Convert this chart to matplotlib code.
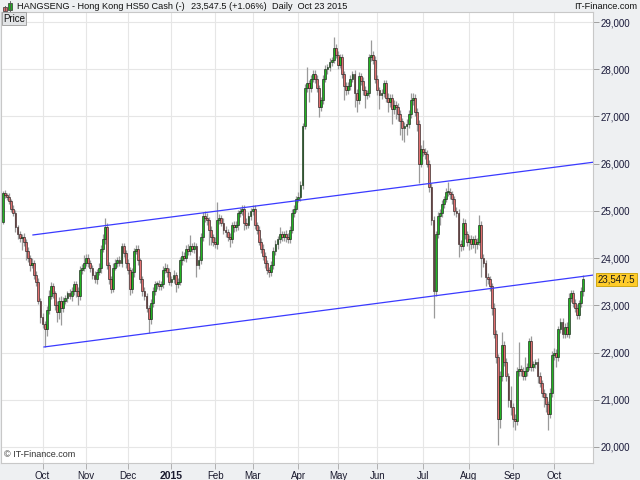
import numpy as np
import pandas as pd
import matplotlib
matplotlib.use('Agg')
import matplotlib.pyplot as plt
from matplotlib.patches import Rectangle
from matplotlib.lines import Line2D
import matplotlib.transforms as mtransforms

plt.rcParams['font.family'] = ['Liberation Sans', 'DejaVu Sans']

# ---------------- data ----------------
hk_holidays = ['2014-09-09', '2014-10-01', '2014-10-02', '2014-12-25', '2014-12-26',
               '2015-01-01', '2015-02-19', '2015-02-20', '2015-04-03', '2015-04-06',
               '2015-04-07', '2015-05-01', '2015-05-25', '2015-07-01', '2015-09-03',
               '2015-09-28', '2015-10-01', '2015-10-21']
last_date = '2015-10-23'

first_open = 24760
closes = [
    25380, 25330, 25300, 25200, 25050, 24950, 24650, 24500, 24430, 24450,
    24350, 24150, 24000, 23850, 23900, 23650, 23500, 23100, 22750, 22600,
    22500, 22900, 23200, 23400, 23250, 23000, 22850, 23100, 22950, 23100,
    23150, 23250, 23200, 23300, 23450, 23300, 23200, 23750, 23800, 23900,
    24000, 23900, 23800, 23650, 23550, 23700, 23800, 24200, 24400, 24650,
    23850, 23550, 23350, 23800, 23900, 23950, 23900, 24250, 24100, 23900,
    23750, 23350, 23700, 24150, 24200, 23950, 23550, 23300, 23200, 22950,
    22700, 23050, 23300, 23450, 23450, 23400, 23450, 23750, 23800, 23700,
    23500, 23550, 23650, 23450, 23500, 23950, 24050, 24000, 24200, 24150,
    24250, 24200, 24250, 23850, 23950, 24450, 24900, 24850, 24800, 24600,
    24450, 24350, 24300, 24800, 24850, 24750, 24600, 24550, 24450, 24400,
    24700, 24650, 24700, 24950, 25000, 25050, 24750, 24700, 24900, 25000,
    25050, 24700, 24600, 24350, 24200, 24050, 23900, 23750, 23700, 23850,
    24150, 24300, 24400, 24500, 24450, 24500, 24450, 24400, 24600, 24950,
    25050, 25250, 25300, 25550, 26800, 27600, 27700, 27600, 27800, 27900,
    27800, 27600, 27200, 27350, 27800, 28000, 28050, 28150, 28200, 28450,
    28300, 28100, 28250, 27900, 27650, 27550, 27650, 27800, 27900, 27500,
    27350, 27850, 27750, 27550, 27450, 27500, 28250, 28300, 28200, 27800,
    27550, 27450, 27500, 27700, 27400, 27300, 27400, 27150, 27250, 27200,
    27050, 26900, 26750, 26800, 26850, 27050, 27350, 27400, 27100, 26850,
    26000, 26300, 26250, 26200, 26000, 25500, 24800, 23300, 24500, 24900,
    24950, 25150, 25250, 25400, 25400, 25350, 25250, 25000, 24950, 24300,
    24250, 24750, 24500, 24350, 24400, 24300, 24400, 24300, 24350, 24700,
    24000, 23900, 23600, 23550, 23400, 22950, 22400, 21900, 20600, 21500,
    22150, 21800, 21500, 21000, 20850, 20600, 20550, 21600, 21650, 21600,
    21500, 21600, 21700, 22250, 21700, 21750, 21800, 21500, 21350, 21150,
    21050, 20900, 20700, 21150, 21950, 22000, 21900, 22500, 22650, 22400,
    22550, 22400, 23150, 23250, 23050, 22950, 22800, 23050, 23300, 23547.5,
]
hi_ext = [
    40, 60, 50, 70, 60, 80, 60, 50, 70, 60,
    80, 60, 90, 70, 100, 60, 80, 70, 60, 80,
    60, 90, 120, 90, 80, 60, 90, 70, 100, 80,
    70, 60, 90, 80, 60, 70, 80, 90, 70, 160,
    90, 80, 70, 60, 80, 70, 90, 80, 120, 200,
    90, 60, 70, 100, 80, 70, 90, 60, 80, 70,
    80, 70, 90, 60, 80, 70, 60, 80, 90, 70,
    60, 90, 80, 70, 60, 90, 70, 80, 100, 70,
    80, 70, 90, 60, 80, 70, 90, 80, 70, 90,
    240, 80, 100, 70, 90, 80, 70, 90, 100, 70,
    80, 70, 90, 390, 80, 70, 90, 80, 70, 90,
    70, 80, 90, 70, 60, 80, 70, 90, 80, 70,
    80, 70, 60, 80, 70, 90, 80, 70, 60, 80,
    80, 90, 70, 150, 80, 70, 90, 80, 70, 90,
    80, 70, 90, 80, 60, 90, 350, 80, 70, 90,
    90, 80, 70, 60, 80, 90, 70, 80, 60, 230,
    80, 90, 70, 80, 60, 70, 90, 80, 70, 90,
    80, 90, 70, 80, 90, 70, 80, 320, 90, 80,
    80, 70, 90, 80, 70, 90, 80, 70, 100, 80,
    90, 80, 70, 80, 90, 80, 150, 90, 80, 70,
    80, 90, 200, 80, 90, 70, 80, 90, 70, 80,
    80, 90, 70, 80, 210, 90, 80, 70, 90, 80,
    80, 90, 80, 70, 90, 80, 70, 90, 80, 210,
    90, 80, 70, 90, 80, 70, 90, 80, 70, 100,
    280, 90, 80, 70, 300, 80, 90, 100, 570, 80,
    90, 300, 80, 60, 90, 80, 70, 90, 80, 70,
    80, 90, 70, 100, 80, 90, 80, 70, 90, 80,
    80, 90, 110, 80, 70, 90, 80, 70, 90, 90,
]
lo_ext = [
    40, 60, 70, 50, 80, 60, 90, 100, 90, 260,
    90, 200, 80, 120, 70, 90, 100, 80, 120, 90,
    380, 150, 80, 70, 90, 100, 200, 130, 370, 100,
    80, 90, 70, 100, 80, 120, 200, 90, 80, 70,
    70, 80, 90, 100, 70, 90, 60, 110, 80, 100,
    80, 90, 100, 70, 60, 80, 70, 90, 80, 100,
    90, 130, 80, 100, 70, 90, 80, 110, 90, 100,
    290, 100, 80, 90, 100, 70, 80, 90, 70, 100,
    80, 100, 70, 170, 90, 80, 100, 70, 80, 90,
    80, 70, 90, 250, 80, 70, 90, 80, 100, 320,
    170, 90, 80, 100, 70, 80, 90, 100, 80, 170,
    80, 90, 70, 100, 80, 90, 150, 80, 70, 90,
    90, 80, 100, 70, 90, 80, 100, 90, 100, 80,
    90, 80, 100, 70, 90, 80, 100, 90, 80, 70,
    90, 80, 70, 90, 80, 70, 90, 300, 80, 70,
    100, 80, 210, 90, 80, 70, 100, 80, 90, 70,
    70, 100, 80, 90, 300, 100, 80, 90, 70, 300,
    250, 80, 90, 100, 280, 90, 80, 70, 90, 100,
    100, 300, 90, 80, 100, 200, 90, 300, 100, 250,
    150, 300, 250, 300, 200, 90, 80, 100, 90, 150,
    400, 80, 90, 100, 80, 90, 100, 570, 100, 80,
    200, 80, 90, 70, 80, 90, 100, 80, 90, 280,
    90, 80, 100, 90, 180, 100, 80, 190, 100, 80,
    400, 90, 200, 100, 90, 150, 100, 120, 560, 200,
    100, 90, 100, 150, 180, 180, 200, 80, 90, 100,
    80, 90, 100, 80, 90, 100, 80, 150, 90, 100,
    200, 150, 340, 80, 90, 100, 210, 80, 90, 100,
    90, 80, 100, 80, 90, 100, 80, 90, 80, 100,
]
# channel lines: (bar index, price) anchors
upper_line_idx = [14.4, 283.7]
upper_line_val = [24490, 26030]
lower_line_idx = [19.7, 283.7]
lower_line_val = [22117, 23640]

ytick_vals = [20000, 21000, 22000, 23000, 24000, 25000, 26000, 27000, 28000, 29000]
last_price_label = '23,547.5'

# ---------------- derived ----------------
N = len(closes)
dates = pd.bdate_range(end=last_date, periods=N, freq='C', holidays=hk_holidays)
closes_a = np.array(closes, dtype=float)
opens_a = np.concatenate([[first_open], closes_a[:-1]])
highs = np.maximum(opens_a, closes_a) + np.array(hi_ext)
lows = np.minimum(opens_a, closes_a) - np.array(lo_ext)
idx = np.arange(N)

W, H = 640, 480
fig = plt.figure(figsize=(6.4, 4.8), dpi=100, facecolor='#eef0f2')
ax = fig.add_axes([1 / W, 17 / H, 592 / W, 451 / H])
ax.set_facecolor('white')

# pixel mapping: bar i at x = 3 + 2.08 i (figure px)
ax.set_xlim((1 - 3) / 2.08, (593 - 3) / 2.08)
ax.set_ylim(19660, 29212)

# wicks
ax.vlines(idx, lows, highs, color='#9a9a9a', lw=0.9, zorder=2)
# bodies
up = closes_a >= opens_a
bottoms = np.minimum(opens_a, closes_a)
heights = np.maximum(np.abs(closes_a - opens_a), 15)
colors = np.where(up, '#22b422', '#e27070')
ax.bar(idx, heights, bottom=bottoms, width=0.9, color=colors,
       edgecolor='#111111', linewidth=0.4, zorder=3)

# channel lines
ax.plot(upper_line_idx, upper_line_val, color='#3a3aff', lw=0.9, zorder=4)
ax.plot(lower_line_idx, lower_line_val, color='#3a3aff', lw=0.9, zorder=4)

# x ticks at month starts
per = dates.to_period('M')
tick_idx = [i for i in range(1, N) if per[i] != per[i - 1]]
tick_lab = ['2015' if dates[i].month == 1 else dates[i].strftime('%b') for i in tick_idx]
ax.set_xticks(tick_idx)
ax.set_xticklabels(tick_lab)
for t in ax.get_xticklabels():
    t.set_fontsize(7)
    t.set_color('#1a1a2e')
    if t.get_text() == '2015':
        t.set_fontweight('bold')
        t.set_fontsize(7.5)
ax.tick_params(axis='x', length=4, width=0.7, color='#b0b0b0', pad=1.5)

# y ticks on right
ax.yaxis.tick_right()
ax.set_yticks(ytick_vals)
ax.set_yticklabels([f'{v:,}' for v in ytick_vals], fontsize=7, color='#1a1a3a')
ax.tick_params(axis='y', length=4, width=0.7, color='#a0a0a0', pad=1.5)

ax.grid(True, color='#e6e6e6', lw=0.8, zorder=0)
ax.set_axisbelow(True)
for s in ax.spines.values():
    s.set_color('#c8c8c8')
    s.set_linewidth(0.8)

# last price tag
trans = mtransforms.blended_transform_factory(ax.transAxes, ax.transData)
ax.text(1 + 5 / 592, closes_a[-1], last_price_label, transform=trans, ha='left', va='center',
        fontsize=7, color='#1a1a1a', clip_on=False, zorder=6,
        bbox=dict(boxstyle='square,pad=0.2', fc='#ffcc2a', ec='#c9a000', lw=0.6))

# Price box
ax.text(2 / 592, 1 - 1.5 / 451, 'Price', transform=ax.transAxes, ha='left', va='top',
        fontsize=7, color='#111111', zorder=6,
        bbox=dict(boxstyle='square,pad=0.15', fc='#e2e4e6', ec='#9a9a9a', lw=0.6))

# copyright
ax.text(3 / 592, 4 / 451, '\u00a9 IT-Finance.com', transform=ax.transAxes, ha='left',
        va='bottom', fontsize=6.5, color='#333333', zorder=6)

# header
def fx(px):
    return px / W

def fy(py):
    return 1 - py / H

ty = fy(6.5)
hfs = 6.6
fig.text(fx(17), ty, 'HANGSENG - Hong Kong HS50 Cash (-)', fontsize=hfs, va='center', color='#111111')
fig.text(fx(191), ty, '23,547.5 (+1.06%)', fontsize=hfs, va='center', color='#111111')
fig.text(fx(272), ty, 'Daily  Oct 23 2015', fontsize=hfs, va='center', color='#111111')
fig.text(fx(637), ty, 'IT-Finance.com', fontsize=hfs, va='center', ha='right', color='#111111')

# header icon (small candles)
fig.add_artist(Line2D([fx(5), fx(5)], [fy(11), fy(6)], color='#555555', lw=0.6, transform=fig.transFigure))
fig.add_artist(Rectangle((fx(3), fy(10.5)), 4 / W, 3.5 / H, transform=fig.transFigure,
                         fc='#e06a6a', ec='#333333', lw=0.5))
fig.add_artist(Line2D([fx(10), fx(10)], [fy(11), fy(1)], color='#555555', lw=0.6, transform=fig.transFigure))
fig.add_artist(Rectangle((fx(8), fy(10)), 4 / W, 7.5 / H, transform=fig.transFigure,
                         fc='#1fae1f', ec='#333333', lw=0.5))

fig.savefig('out.png', dpi=100, facecolor=fig.get_facecolor())
